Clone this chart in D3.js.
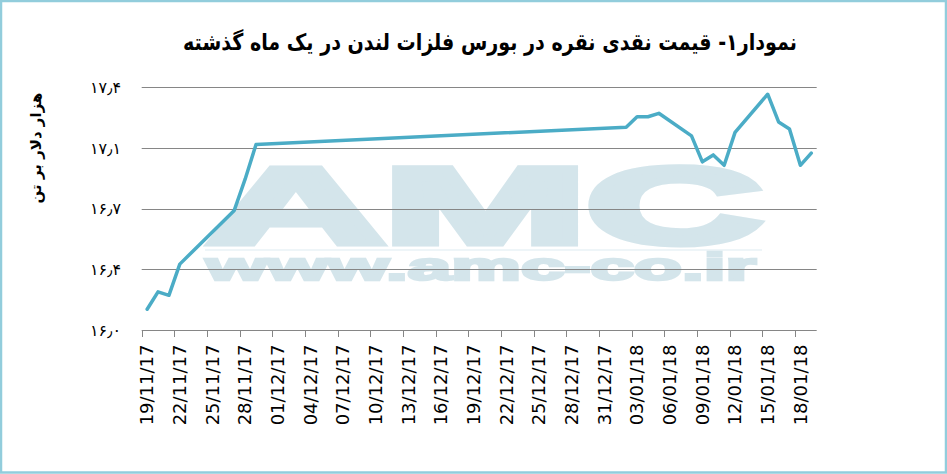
<!DOCTYPE html>
<html><head><meta charset="utf-8">
<script src="https://cdn.jsdelivr.net/npm/d3@7"></script>
<style>html,body{margin:0;padding:0;background:#fff;}svg{display:block;}</style>
</head><body>
<svg id="c" width="947" height="474"></svg>
<script>
const titleText = "نمودار۱- قیمت نقدی نقره در بورس فلزات لندن در یک ماه گذشته";
const yTitle = "هزار دلار بر تن";
const firstDay = "2017-11-19";
const lastDay = "2018-01-19";
const dates = ["2017-11-19","2017-11-20","2017-11-21","2017-11-22","2017-11-27","2017-11-28","2017-11-29",
  "2018-01-02","2018-01-03","2018-01-04","2018-01-05","2018-01-08","2018-01-09","2018-01-10","2018-01-11",
  "2018-01-12","2018-01-15","2018-01-16","2018-01-17","2018-01-18","2018-01-19"];
const prices = [16.12,16.22,16.20,16.38,16.69,16.87,17.07,
  17.17,17.23,17.23,17.25,17.12,16.97,17.01,16.95,
  17.14,17.36,17.20,17.16,16.95,17.02];
const yTicks = [16.0,16.35,16.7,17.05,17.4];
const yTickLabels = ["۱۶٫۰","۱۶٫۴","۱۶٫۷","۱۷٫۱","۱۷٫۴"];
const watermarkBig = "AMC";
const watermarkSmall = "www.amc-co.ir";

const svg = d3.select("#c");
const W = 947, H = 474;
const L = 141.7, R = 816.7, T = 87.3, B = 330;

const parse = d3.timeParse("%Y-%m-%d");
const fmt = d3.timeFormat("%d/%m/%y");
const days = d3.timeDay.range(parse(firstDay), d3.timeDay.offset(parse(lastDay), 1));
const dayKeys = days.map(d => fmt(d));
const x = d3.scaleBand().domain(dayKeys).range([L, R]).padding(0);
const y = d3.scaleLinear().domain([16.0, 17.4]).range([B, T]);

// border
svg.append("rect").attr("x",1).attr("y",1).attr("width",W-2).attr("height",H-2.5)
  .attr("fill","#fff").attr("stroke","#92cddc").attr("stroke-width",2.5);

// watermark
const wm = svg.append("g").attr("fill","#d4e5eb");
wm.append("text").attr("x",208).attr("y",243).text(watermarkBig)
  .attr("font-family","Liberation Sans, Arial, sans-serif").attr("font-weight","bold")
  .attr("font-size",108).attr("textLength",554).attr("lengthAdjust","spacingAndGlyphs")
  .attr("stroke","#d4e5eb").attr("stroke-width",7).attr("stroke-linejoin","miter");
wm.append("rect").attr("x",205).attr("y",249).attr("width",557).attr("height",2).attr("fill","#eef5f8");
wm.append("text").attr("x",206).attr("y",280).text(watermarkSmall)
  .attr("font-family","Liberation Sans, Arial, sans-serif").attr("font-weight","bold")
  .attr("font-size",38).attr("textLength",550).attr("lengthAdjust","spacingAndGlyphs")
  .attr("stroke","#d4e5eb").attr("stroke-width",2.5);

// gridlines
svg.append("g").selectAll("line").data(yTicks.slice(1)).join("line")
  .attr("x1",L).attr("x2",R).attr("y1",d=>Math.round(y(d))+0.5).attr("y2",d=>Math.round(y(d))+0.5)
  .attr("stroke","#868686").attr("stroke-width",1);

// y labels
svg.append("g").selectAll("text").data(yTicks).join("text")
  .attr("x",121).attr("y",d=>y(d)).attr("dy","0.35em").attr("text-anchor","end")
  .attr("font-family","DejaVu Sans, sans-serif").attr("font-size",16).attr("fill","#000")
  .text((d,i)=>yTickLabels[i]);

// x axis
const tickKeys = dayKeys.filter((d,i)=>i%3===0);
const xAxis = d3.axisBottom(x).tickValues(tickKeys).tickSize(0).tickPadding(0);
const gx = svg.append("g").attr("transform",`translate(0,${B+0.5})`).call(xAxis);
gx.select(".domain").remove();
gx.selectAll("text").attr("font-family","DejaVu Sans, sans-serif").attr("font-size",18).attr("fill","#000")
  .attr("transform","rotate(-90)").attr("text-anchor","end").attr("x",-14).attr("y",0).attr("dy","0.35em");
svg.append("line").attr("x1",L).attr("x2",R).attr("y1",B+0.5).attr("y2",B+0.5).attr("stroke","#868686");
svg.append("g").selectAll("line").data(tickKeys).join("line")
  .attr("x1",d=>Math.round(x(d))+0.5).attr("x2",d=>Math.round(x(d))+0.5)
  .attr("y1",B).attr("y2",B+7).attr("stroke","#868686");

// line
const pts = dates.map((d,i)=>({k:fmt(parse(d)), v:prices[i]}));
svg.append("path").datum(pts)
  .attr("fill","none").attr("stroke","#4bacc6").attr("stroke-width",3.5).attr("stroke-linejoin","round").attr("stroke-linecap","round")
  .attr("d", d3.line().x(d=>x(d.k)+x.bandwidth()/2).y(d=>y(d.v)));

// titles
svg.append("text").attr("transform","translate(490,50) scale(0.83,1)").attr("text-anchor","middle").attr("direction","rtl")
  .attr("font-family","DejaVu Sans, sans-serif").attr("font-weight","bold").attr("font-size",23)
  .text(titleText);
svg.append("text").attr("transform","translate(36,148) rotate(-90)").attr("text-anchor","middle")
  .attr("dy","0.35em").attr("direction","rtl")
  .attr("font-family","DejaVu Sans, sans-serif").attr("font-weight","bold").attr("font-size",15)
  .text(yTitle);
</script>
</body></html>
